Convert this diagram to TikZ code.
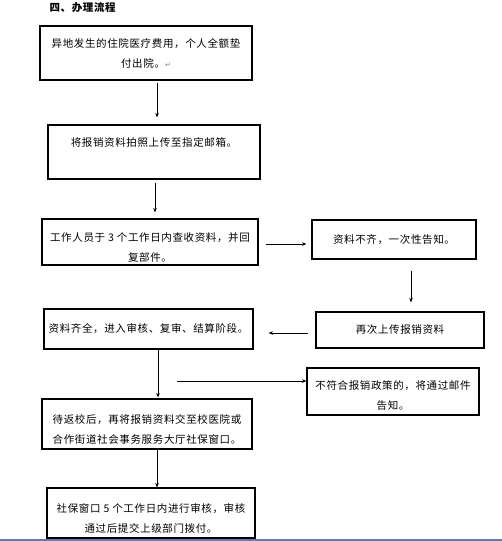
\documentclass[tikz,border=0pt]{standalone}
\usepackage{fontspec}
\setmainfont{Noto Sans CJK SC}[LetterSpace=6]
\newfontfamily\markfont{DejaVu Sans}
\usetikzlibrary{arrows.meta, calc}
\definecolor{flowDark}{HTML}{000000}
\definecolor{pageRule}{HTML}{5B7FB5}

\begin{document}
\begin{tikzpicture}[x=1pt, y=-1pt, font=\fontsize{10.5}{20}\selectfont,
    box/.style={draw=flowDark, line width=1.1pt, align=center, inner sep=0pt},
    lowtext/.style={text height=39pt},
    flow/.style={draw=flowDark, line width=0.9pt, -{Stealth[length=4.5pt, width=3.5pt]}}]
  \useasboundingbox (0,0) rectangle (502,541);

  % titulo
  \node[font=\fontsize{10.5}{12}\selectfont\bfseries, anchor=west] (title) at (46,8) {四、办理流程};

  % columna izquierda
  \node[box, minimum width=212, minimum height=54] (advance) at (146,53)
    {异地发生的住院医疗费用，个人全额垫\\付出院。{\markfont\color{gray}\scriptsize ↵}};
  \node[box, minimum width=212, minimum height=54] (upload) at (154,152)
    {将报销资料拍照上传至指定邮箱。\\\mbox{}};
  \node[box, lowtext, minimum width=216, minimum height=46] (check) at (150,242)
    {工作人员于 3 个工作日内查收资料，并回\\复部件。};
  \node[box, minimum width=209, minimum height=40] (review) at (148.5,329)
    {资料齐全，进入审核、复审、结算阶段。};
  \node[box, lowtext, minimum width=210, minimum height=50] (submit) at (147,424)
    {待返校后，再将报销资料交至校医院或\\合作街道社会事务服务大厅社保窗口。};
  \node[box, lowtext, minimum width=208, minimum height=50] (window) at (151,513)
    {社保窗口 5 个工作日内进行审核，审核\\通过后提交上级部门拨付。};

  % columna derecha
  \node[box, minimum width=164, minimum height=39] (lack) at (394,239.5)
    {资料不齐，一次性告知。};
  \node[box, minimum width=168, minimum height=36] (resend) at (400,330)
    {再次上传报销资料};
  \node[box, text height=37pt, minimum width=172, minimum height=47] (reject) at (393,391.5)
    {不符合报销政策的，将通过邮件\\告知。};

  % flechas
  \draw[flow, shorten <=2pt, shorten >=7pt] ([xshift=11pt]advance.south) -- ([xshift=3pt]upload.north);
  \draw[flow, shorten <=3pt, shorten >=6pt] ([xshift=1pt]upload.south) -- ([xshift=5pt]check.north);
  \draw[flow, shorten <=7pt, shorten >=5pt] ([yshift=-2pt]check.east) -- ([yshift=-4.5pt]lack.west);
  \draw[flow, shorten <=11pt, shorten >=9pt] ([xshift=17pt]lack.south) -- ([xshift=11pt]resend.north);
  \draw[flow, shorten <=7pt, shorten >=15pt] ([yshift=-3pt]resend.west) -- ([yshift=-4pt]review.east);
  \draw[flow, shorten >=1pt] ([xshift=9.5pt]review.south) -- ([xshift=11pt]submit.north);
  \coordinate (fork) at (177,381);
  \draw[flow] (fork) -- (fork -| reject.west);
  \draw[flow] ([xshift=10pt]submit.south) -- ([xshift=6pt]window.north);

  % borde de pagina
  \draw[pageRule, line width=1.2pt] (0,540) -- (502,540);
\end{tikzpicture}
\end{document}
